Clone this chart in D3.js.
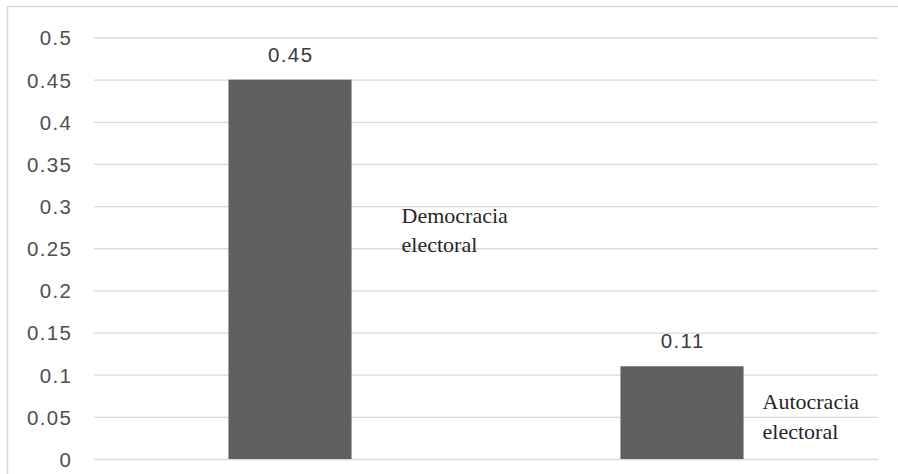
<!DOCTYPE html>
<html><head><meta charset="utf-8">
<script src="https://cdn.jsdelivr.net/npm/d3@7"></script>
<style>
html,body{margin:0;padding:0;background:#fff;}
svg{display:block;}
</style></head>
<body>
<svg id="chart" width="898" height="474"></svg>
<script>
const categories = ["Democracia electoral", "Autocracia electoral"];
const categoryLines = [["Democracia", "electoral"], ["Autocracia", "electoral"]];
const values = [0.45, 0.11];
const valueLabels = ["0.45", "0.11"];
const yTicks = [0, 0.05, 0.1, 0.15, 0.2, 0.25, 0.3, 0.35, 0.4, 0.45, 0.5];
const yTickLabels = ["0", "0.05", "0.1", "0.15", "0.2", "0.25", "0.3", "0.35", "0.4", "0.45", "0.5"];

const W = 898, H = 474;
const margin = {left: 94, right: 20, top: 37.5, bottom: 15};
const plotW = 878 - margin.left;
const svg = d3.select("#chart");

// chart border (top + left visible)
svg.append("rect").attr("x", 7.5).attr("y", 6.5).attr("width", 898).attr("height", 480)
  .attr("fill", "none").attr("stroke", "#d9d9d9").attr("stroke-width", 1.5);

const x = d3.scaleBand().domain(categories).range([margin.left, 878])
  .paddingInner(0.686).paddingOuter(0.343);
const y = d3.scaleLinear().domain([0, 0.5]).range([459, 37.5]);

const g = svg.append("g");
// gridlines
const yAxis = d3.axisLeft(y).tickValues(yTicks).tickFormat((d, i) => yTickLabels[i])
  .tickSize(-plotW).tickPadding(23);
const ax = g.append("g").attr("transform", `translate(${margin.left},0)`).call(yAxis);
ax.select(".domain").remove();
ax.selectAll(".tick line").attr("stroke", "#d9d9d9").attr("stroke-width", 1.3);
ax.selectAll(".tick text").attr("fill", "#505050")
  .style("font-family", "'Liberation Sans', Arial, sans-serif")
  .style("font-size", "20.5px").style("letter-spacing", "1.4px")
  .attr("dx", "1.4px").attr("dy", "0.36em");

// bars
g.selectAll("rect.bar").data(values).enter().append("rect").attr("class", "bar")
  .attr("x", (d, i) => x(categories[i]))
  .attr("width", x.bandwidth())
  .attr("y", d => y(d))
  .attr("height", d => y(0) - y(d))
  .attr("fill", "#5f5f5f");

// value labels
g.selectAll("text.val").data(values).enter().append("text").attr("class", "val")
  .attr("x", (d, i) => x(categories[i]) + x.bandwidth() / 2 + 0.7)
  .attr("y", d => y(d) - 18)
  .attr("text-anchor", "middle")
  .attr("fill", "#3a3a3a")
  .style("font-family", "'Liberation Sans', Arial, sans-serif")
  .style("font-size", "20.5px").style("letter-spacing", "1.4px")
  .text((d, i) => valueLabels[i]);

// category labels (placed at right of each bar, as in reference)
const catOffsets = [{dx: 50, v: 0.28}, {dx: 19, v: 0.059}];
categoryLines.forEach((lines, i) => {
  const t = g.append("text")
    .attr("x", x(categories[i]) + x.bandwidth() + catOffsets[i].dx)
    .attr("y", y(catOffsets[i].v))
    .attr("fill", "#262626")
    .style("font-family", "'Liberation Serif', 'Times New Roman', serif")
    .style("font-size", "22px");
  lines.forEach((ln, j) => {
    t.append("tspan").attr("x", x(categories[i]) + x.bandwidth() + catOffsets[i].dx)
      .attr("dy", j === 0 ? 0 : 29.5).text(ln);
  });
});
</script>
</body></html>
